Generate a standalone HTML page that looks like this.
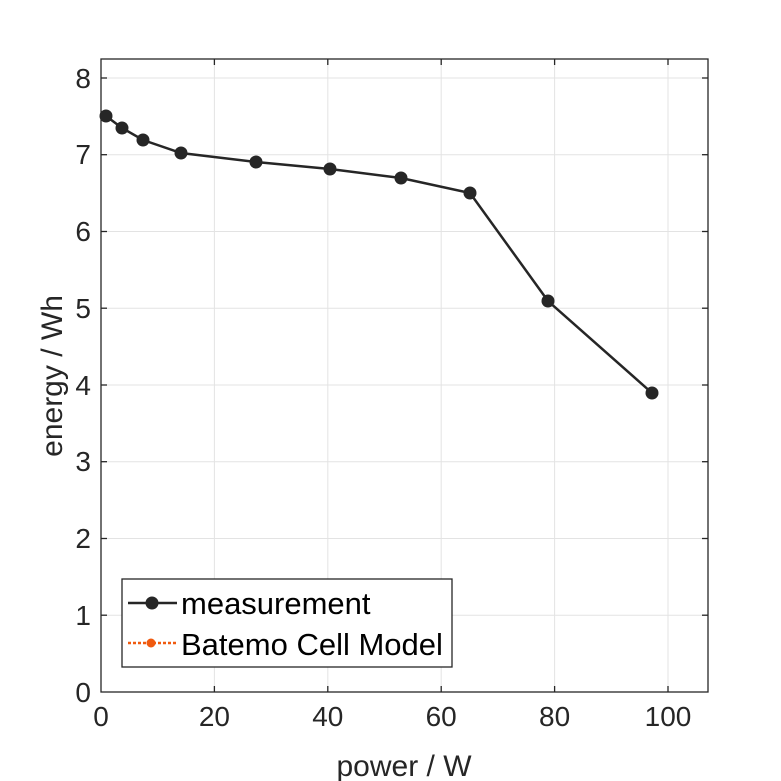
<!DOCTYPE html>
<html><head><style>body{margin:0;background:#fff}svg{display:block}</style></head><body>
<svg width="781" height="781" viewBox="0 0 781 781" xmlns="http://www.w3.org/2000/svg" font-family="Liberation Sans, sans-serif">
<rect width="781" height="781" fill="#fff"/>
<g stroke="#e3e3e3" stroke-width="1">
<line x1="214.4" y1="59" x2="214.4" y2="692"/><line x1="327.8" y1="59" x2="327.8" y2="692"/><line x1="441.2" y1="59" x2="441.2" y2="692"/><line x1="554.6" y1="59" x2="554.6" y2="692"/><line x1="668" y1="59" x2="668" y2="692"/>
<line x1="101" y1="615.2" x2="708" y2="615.2"/><line x1="101" y1="538.5" x2="708" y2="538.5"/><line x1="101" y1="461.7" x2="708" y2="461.7"/><line x1="101" y1="385" x2="708" y2="385"/><line x1="101" y1="308.2" x2="708" y2="308.2"/><line x1="101" y1="231.5" x2="708" y2="231.5"/><line x1="101" y1="154.7" x2="708" y2="154.7"/><line x1="101" y1="78" x2="708" y2="78"/>
</g>
<rect x="101" y="59" width="607" height="633" fill="none" stroke="#262626" stroke-width="1.3"/>
<g stroke="#262626" stroke-width="1.3">
<line x1="214.4" y1="692" x2="214.4" y2="686"/><line x1="327.8" y1="692" x2="327.8" y2="686"/><line x1="441.2" y1="692" x2="441.2" y2="686"/><line x1="554.6" y1="692" x2="554.6" y2="686"/><line x1="668" y1="692" x2="668" y2="686"/>
<line x1="214.4" y1="59" x2="214.4" y2="65"/><line x1="327.8" y1="59" x2="327.8" y2="65"/><line x1="441.2" y1="59" x2="441.2" y2="65"/><line x1="554.6" y1="59" x2="554.6" y2="65"/><line x1="668" y1="59" x2="668" y2="65"/>
<line x1="101" y1="615.2" x2="107" y2="615.2"/><line x1="101" y1="538.5" x2="107" y2="538.5"/><line x1="101" y1="461.7" x2="107" y2="461.7"/><line x1="101" y1="385" x2="107" y2="385"/><line x1="101" y1="308.2" x2="107" y2="308.2"/><line x1="101" y1="231.5" x2="107" y2="231.5"/><line x1="101" y1="154.7" x2="107" y2="154.7"/><line x1="101" y1="78" x2="107" y2="78"/>
<line x1="708" y1="615.2" x2="702" y2="615.2"/><line x1="708" y1="538.5" x2="702" y2="538.5"/><line x1="708" y1="461.7" x2="702" y2="461.7"/><line x1="708" y1="385" x2="702" y2="385"/><line x1="708" y1="308.2" x2="702" y2="308.2"/><line x1="708" y1="231.5" x2="702" y2="231.5"/><line x1="708" y1="154.7" x2="702" y2="154.7"/><line x1="708" y1="78" x2="702" y2="78"/>
</g>
<g fill="#262626" font-size="28" text-anchor="middle">
<text x="101" y="726">0</text><text x="214.4" y="726">20</text><text x="327.8" y="726">40</text><text x="441.2" y="726">60</text><text x="554.6" y="726">80</text><text x="668" y="726">100</text>
</g>
<g fill="#262626" font-size="28" text-anchor="end">
<text x="91" y="702">0</text><text x="91" y="625">1</text><text x="91" y="548">2</text><text x="91" y="471">3</text><text x="91" y="395">4</text><text x="91" y="318">5</text><text x="91" y="241">6</text><text x="91" y="164">7</text><text x="91" y="88">8</text>
</g>
<text x="404" y="776" font-size="30" fill="#262626" text-anchor="middle">power / W</text>
<text transform="translate(62,376) rotate(-90)" font-size="30" fill="#262626" text-anchor="middle">energy / Wh</text>
<polyline fill="none" stroke="#262626" stroke-width="2.5" points="106,116 122,128 143,140 181,153 256,162 330,169 401,178 470,193 548,301 652,393"/>
<g fill="#262626">
<circle cx="106" cy="116" r="6.5"/><circle cx="122" cy="128" r="6.5"/><circle cx="143" cy="140" r="6.5"/><circle cx="181" cy="153" r="6.5"/><circle cx="256" cy="162" r="6.5"/><circle cx="330" cy="169" r="6.5"/><circle cx="401" cy="178" r="6.5"/><circle cx="470" cy="193" r="6.5"/><circle cx="548" cy="301" r="6.5"/><circle cx="652" cy="393" r="6.5"/>
</g>
<rect x="122" y="579" width="330" height="88" fill="#fff" stroke="#262626" stroke-width="1.3"/>
<line x1="128" y1="603" x2="177" y2="603" stroke="#262626" stroke-width="2.5"/>
<circle cx="152" cy="603" r="6.5" fill="#262626"/>
<line x1="128" y1="643" x2="177" y2="643" stroke="#f05a0f" stroke-width="2.5" stroke-dasharray="3,2"/>
<circle cx="151" cy="643" r="4.5" fill="#f05a0f"/>
<text x="181" y="614" font-size="31" fill="#000">measurement</text>
<text x="181" y="655" font-size="31" fill="#000">Batemo Cell Model</text>
</svg>
</body></html>
